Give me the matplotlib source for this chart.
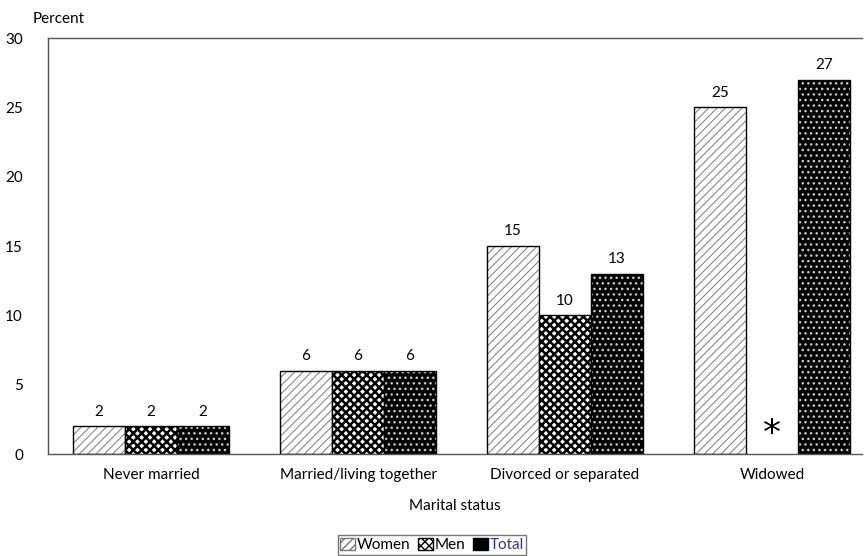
import matplotlib
matplotlib.use("Agg")
import matplotlib.pyplot as plt
from matplotlib.patches import Patch
import numpy as np

categories = ["Never married", "Married/living together", "Divorced or separated", "Widowed"]
series_names = ["Women", "Men", "Total"]
women = [2, 6, 15, 25]
men = [2, 6, 10, None]
total = [2, 6, 13, 27]
yticks = [0, 5, 10, 15, 20, 25, 30]

plt.rcParams['font.family'] = ['Lato', 'DejaVu Sans']
plt.rcParams['font.size'] = 11

fig = plt.figure(figsize=(8.65, 5.56), dpi=100)
ax = fig.add_axes([48/865, 1-454/556, (862-48)/865, (454-38)/556])

spacing = 207.0
centers = np.arange(len(categories))
w = 52 / spacing
ax.set_xlim((48 - 151) / spacing, (862 - 151) / spacing)
ax.set_ylim(0, 30)

series = [women, men, total]
offsets = [-w, 0, w]
for s, vals, off in zip(series_names, series, offsets):
    for c, v in zip(centers, vals):
        x = c + off
        if v is None:
            ax.text(x, 0.2, "*", ha="center", va="bottom", fontsize=26, family="DejaVu Sans")
            continue
        if s == "Women":
            plt.rcParams['hatch.linewidth'] = 0.7
            ax.bar(x, v, width=w, facecolor="white", edgecolor="#777777", hatch="////", linewidth=0)
        elif s == "Men":
            plt.rcParams['hatch.linewidth'] = 1.8
            ax.bar(x, v, width=w, facecolor="white", edgecolor="black", hatch="xxxx", linewidth=0)
        else:
            plt.rcParams['hatch.linewidth'] = 1.0
            ax.bar(x, v, width=w, facecolor="black", edgecolor="#cccccc", hatch="...", linewidth=0)
        ax.bar(x, v, width=w, facecolor="none", edgecolor="black", linewidth=1.0)
        ax.text(x, v + 0.55, f"{v}", ha="center", va="bottom", fontsize=11)

ax.set_yticks(yticks)
ax.set_xticks(centers)
ax.set_xticklabels(categories)
ax.tick_params(length=0)
ax.tick_params(axis='y', pad=18)
ax.tick_params(axis='x', pad=10)
ax.spines["right"].set_visible(False)
for side in ["left", "top", "bottom"]:
    ax.spines[side].set_color("#555555")
    ax.spines[side].set_linewidth(1.0)

ax.set_xlabel("Marital status", labelpad=12)
fig.text(33/865, 1-19/556, "Percent", ha="left", va="center", fontsize=11)

plt.rcParams['hatch.linewidth'] = 1.0
handles = [
    Patch(facecolor="white", edgecolor="#777777", hatch="////", label="Women"),
    Patch(facecolor="white", edgecolor="black", hatch="xxxx", label="Men"),
    Patch(facecolor="black", edgecolor="black", label="Total"),
]
leg = fig.legend(handles=handles, loc="center", bbox_to_anchor=(432/865, 1-545/556), ncol=3,
                 frameon=True, fancybox=False, edgecolor="#555555", handlelength=1.0,
                 handleheight=0.9, handletextpad=0.1, columnspacing=0.5, borderpad=0.15,
                 fontsize=11, borderaxespad=0)
leg.get_frame().set_linewidth(1.0)
leg.get_texts()[2].set_color("#333399")

fig.savefig("out.png", dpi=100)
